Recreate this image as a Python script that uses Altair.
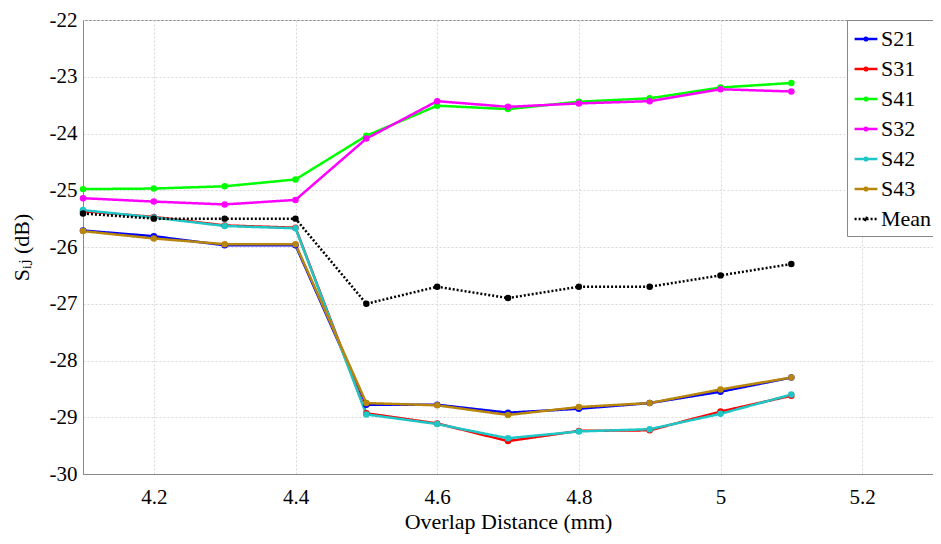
import altair as alt
import pandas as pd

x_vals = [4.1, 4.2, 4.3, 4.4, 4.5, 4.6, 4.7, 4.8, 4.9, 5.0, 5.1]
series_names = ["S21", "S31", "S41", "S32", "S42", "S43", "Mean"]
S21 = [-25.71, -25.81, -25.97, -25.97, -28.78, -28.78, -28.92, -28.85, -28.75, -28.55, -28.30]
S31 = [-25.37, -25.47, -25.62, -25.66, -28.93, -29.11, -29.42, -29.24, -29.23, -28.90, -28.62]
S41 = [-24.98, -24.97, -24.93, -24.81, -24.04, -23.51, -23.57, -23.44, -23.38, -23.19, -23.11]
S32 = [-25.14, -25.20, -25.25, -25.17, -24.09, -23.43, -23.53, -23.47, -23.43, -23.22, -23.26]
S42 = [-25.35, -25.48, -25.63, -25.67, -28.95, -29.12, -29.37, -29.25, -29.21, -28.94, -28.60]
S43 = [-25.72, -25.85, -25.95, -25.95, -28.75, -28.79, -28.96, -28.82, -28.75, -28.51, -28.30]
Mean = [-25.41, -25.50, -25.50, -25.50, -27.00, -26.70, -26.90, -26.70, -26.70, -26.50, -26.30]
colors = ["#0000FF", "#FF0000", "#00FF00", "#FF00FF", "#1FC6C6", "#B8860B", "#000000"]
dashes = [[1, 0]] * 6 + [[2, 2]]
x_ticks = [4.2, 4.4, 4.6, 4.8, 5.0, 5.2]
y_ticks = [-30, -29, -28, -27, -26, -25, -24, -23, -22]

all_series = [S21, S31, S41, S32, S42, S43, Mean]
rows = []
for i, (name, vals) in enumerate(zip(series_names, all_series)):
    for xv, yv in zip(x_vals, vals):
        rows.append({"x": xv, "y": yv, "series": name, "ord": i})
df = pd.DataFrame(rows)

FONT = "'Times New Roman', 'Liberation Serif', 'DejaVu Serif', 'Noto Serif', serif"
sym = "M -1 0 L 1 0 M -0.12 0 A 0.12 0.12 0 1 0 0.12 0 A 0.12 0.12 0 1 0 -0.12 0"

legend = alt.Legend(
    title=None, orient="none", legendX=764, legendY=0,
    labelFont=FONT, labelFontSize=22, labelColor="black",
    symbolType=sym, symbolSize=520, symbolStrokeWidth=2.5,
    rowPadding=6, padding=6, strokeColor="#888888", fillColor="white",
    labelOffset=2, cornerRadius=0,
)

xenc = alt.X("x:Q", scale=alt.Scale(domain=[4.1, 5.3], nice=False, zero=False),
             axis=alt.Axis(values=x_ticks, labelExpr="datum.value + ''",
                           title="Overlap Distance (mm)"))
yenc = alt.Y("y:Q", scale=alt.Scale(domain=[-30, -22], nice=False, zero=False),
             axis=alt.Axis(values=y_ticks, labelExpr="datum.value + ''",
                           title="Sᵢⱼ (dB)"))
cenc = alt.Color("series:N", scale=alt.Scale(domain=series_names, range=colors),
                 sort=series_names, legend=legend)

lines = alt.Chart(df).mark_line(strokeWidth=2.5).encode(
    x=xenc, y=yenc, color=cenc,
    strokeDash=alt.StrokeDash("series:N", scale=alt.Scale(domain=series_names, range=dashes),
                              sort=series_names, legend=legend),
    order="ord:Q",
)
points = alt.Chart(df).mark_circle(size=42, opacity=1).encode(
    x=xenc, y=yenc, color=cenc, order="ord:Q",
)

chart = alt.layer(lines, points).properties(
    width=850, height=454,
    autosize=alt.AutoSizeParams(type="none"),
    padding={"left": 75, "top": 12, "right": 0, "bottom": 62},
).configure(
    font=FONT,
).configure_view(
    stroke="#888888", strokeWidth=1
).configure_axis(
    labelFont=FONT, titleFont=FONT, labelFontSize=21, titleFontSize=22,
    labelColor="black", titleColor="black", titleFontWeight="normal",
    domainColor="#888888", tickColor="#888888", ticks=False,
    grid=True, gridColor="#d8d8d8", gridDash=[2, 2], gridWidth=1,
).configure_axisX(
    labelPadding=12, titlePadding=4,
).configure_axisY(
    labelPadding=6, titlePadding=16,
).configure_legend(
    labelFont=FONT,
)

chart.save("out.html", embed_options={"renderer": "svg", "actions": False})
